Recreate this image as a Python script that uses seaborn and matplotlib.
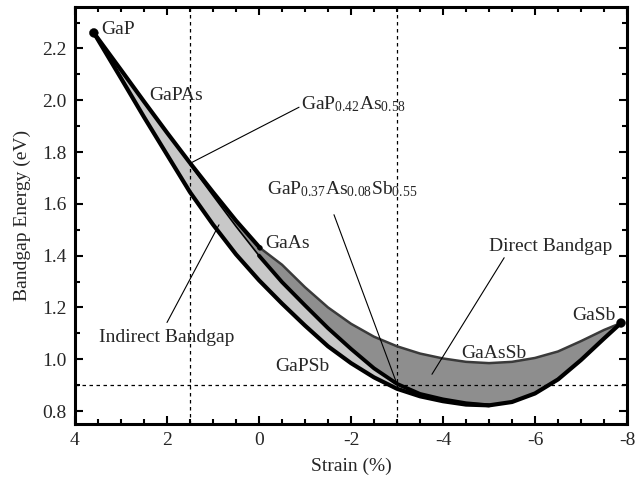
import numpy as np
import pandas as pd
import matplotlib
matplotlib.use("Agg")
import matplotlib.pyplot as plt
from matplotlib.ticker import MultipleLocator, FormatStrFormatter
import seaborn as sns

# ---------------- data ----------------
binary_names = ["GaP", "GaAs", "GaSb"]
binary_strain = [3.59, -0.02, -7.87]
binary_gap = [2.26, 1.43, 1.14]

# GaPAs edge (GaP -> GaAs)
gapas_x = [3.59, 3.0, 2.5, 2.0, 1.5, 1.0, 0.5, -0.02]
gapas_y = [2.26, 2.117, 1.995, 1.875, 1.758, 1.645, 1.535, 1.43]

# GaAsSb edge (GaAs -> GaSb)
gaassb_x = [-0.02, -0.5, -1.0, -1.5, -2.0, -2.5, -3.0, -3.5, -4.0, -4.5, -5.0,
            -5.5, -6.0, -6.5, -7.0, -7.5, -7.87]
gaassb_y = [1.43, 1.365, 1.278, 1.2, 1.137, 1.087, 1.05, 1.022, 1.003, 0.99,
            0.985, 0.99, 1.005, 1.03, 1.07, 1.113, 1.14]

# GaPSb edge (GaP -> GaSb)
gapsb_x = [3.59, 3.0, 2.5, 2.0, 1.5, 1.0, 0.5, 0.0, -0.5, -1.0, -1.5, -2.0,
           -2.5, -3.0, -3.5, -4.0, -4.5, -5.0, -5.5, -6.0, -6.5, -7.0, -7.5, -7.87]
gapsb_y = [2.26, 2.085, 1.935, 1.79, 1.645, 1.52, 1.405, 1.305, 1.215, 1.13,
           1.05, 0.985, 0.93, 0.886, 0.857, 0.838, 0.825, 0.822, 0.835, 0.868,
           0.922, 0.997, 1.08, 1.14]

# direct / indirect boundary
boundary_x = [1.5, 1.0, 0.5, 0.0, -0.5, -1.0, -1.5, -2.0, -2.5, -3.0, -3.5,
              -4.0, -4.5, -5.0]
boundary_y = [1.752, 1.632, 1.513, 1.40, 1.298, 1.208, 1.12, 1.04, 0.965,
              0.905, 0.866, 0.845, 0.83, 0.822]

x_ticks = [4, 2, 0, -2, -4, -6, -8]
y_ticks = [0.8, 1.0, 1.2, 1.4, 1.6, 1.8, 2.0, 2.2]
ref_strain = [1.5, -3.0]
ref_gap = 0.9

# ---------------- style ----------------
sns.set_style("ticks")
plt.rcParams.update({
    "font.family": ["Liberation Serif", "DejaVu Serif"],
    "mathtext.fontset": "custom",
    "mathtext.rm": "Liberation Serif",
    "mathtext.it": "Liberation Serif:italic",
    "mathtext.bf": "Liberation Serif:bold",
    "axes.unicode_minus": False,
    "font.size": 14,
})

LIGHT = "#c8c8c8"
DARK = "#8e8e8e"

fig = plt.figure(figsize=(6.36, 4.78), dpi=100)
ax = fig.add_axes([75 / 636, 1 - 424 / 478, (627 - 75) / 636, (424 - 7) / 478])

# whole quaternary region (indirect, light)
poly_x = list(gapas_x) + list(gaassb_x[1:]) + list(gapsb_x[::-1][1:])
poly_y = list(gapas_y) + list(gaassb_y[1:]) + list(gapsb_y[::-1][1:])
ax.fill(poly_x, poly_y, color=LIGHT, lw=0, zorder=1)

# direct region (dark)
gx = np.array(gapsb_x); gy = np.array(gapsb_y)
tail = gx < boundary_x[-1]
pa_x = np.array(gapas_x); pa_y = np.array(gapas_y)
mid = (pa_x > 0) & (pa_x < boundary_x[0])
dark_x = (list(boundary_x) + list(gx[tail]) + list(gaassb_x[::-1][1:])
          + list(pa_x[mid][::-1]))
dark_y = (list(boundary_y) + list(gy[tail]) + list(gaassb_y[::-1][1:])
          + list(pa_y[mid][::-1]))
ax.fill(dark_x, dark_y, color=DARK, lw=0, zorder=2)

# reference dashed lines
dash = (0, (2.8, 2.8))
for xs in ref_strain:
    ax.axvline(xs, color="black", lw=0.9, ls=dash, zorder=2.5)
ax.axhline(ref_gap, color="black", lw=0.9, ls=dash, zorder=2.5)

# edges
sns.lineplot(x=gaassb_x, y=gaassb_y, sort=False, estimator=None, color="#3a3a3a",
             lw=1.8, ax=ax, zorder=3)
sns.lineplot(x=boundary_x, y=boundary_y, sort=False, estimator=None, color="black",
             lw=1.2, ax=ax, zorder=4)
bx = np.array(boundary_x); by = np.array(boundary_y)
sel = bx <= 0.0
sns.lineplot(x=bx[sel], y=by[sel], sort=False, estimator=None, color="black",
             lw=2.8, ax=ax, zorder=4)
sns.lineplot(x=gapsb_x, y=gapsb_y, sort=False, estimator=None, color="black",
             lw=3.0, ax=ax, zorder=5)
sns.lineplot(x=gapas_x, y=gapas_y, sort=False, estimator=None, color="black",
             lw=3.0, ax=ax, zorder=5)

# binary end points
sns.scatterplot(x=binary_strain, y=binary_gap, s=[40, 12, 40], color="black",
                edgecolor="black", ax=ax, zorder=6, legend=False)

# labels
fs = 14
ax.text(3.435, 2.257, "GaP", fontsize=fs, va="baseline", ha="left")
ax.text(2.39, 2.0, "GaPAs", fontsize=fs, va="baseline", ha="left")
ax.text(-0.92, 1.965, r"GaP$_{0.42}$As$_{0.58}$", fontsize=fs, va="baseline", ha="left")
ax.text(-0.18, 1.635, r"GaP$_{0.37}$As$_{0.08}$Sb$_{0.55}$", fontsize=fs,
        va="baseline", ha="left")
ax.text(-0.145, 1.43, "GaAs", fontsize=fs, va="baseline", ha="left")
ax.text(3.48, 1.067, "Indirect Bandgap", fontsize=fs, va="baseline", ha="left")
ax.text(-0.363, 0.955, "GaPSb", fontsize=fs, va="baseline", ha="left")
ax.text(-5.0, 1.417, "Direct Bandgap", fontsize=fs, va="baseline", ha="left")
ax.text(-4.4, 1.003, "GaAsSb", fontsize=fs, va="baseline", ha="left")
ax.text(-6.81, 1.151, "GaSb", fontsize=fs, va="baseline", ha="left")

# leader lines
lead = dict(color="black", lw=0.8, zorder=7)
ax.plot([-0.87, 1.48], [1.973, 1.758], **lead)
ax.plot([-1.63, -3.0], [1.558, 0.904], **lead)
ax.plot([2.0, 0.87], [1.142, 1.519], **lead)
ax.plot([-5.33, -3.76], [1.392, 0.942], **lead)

# axes
ax.set_xlim(4.0, -8.0)
ax.set_ylim(0.75, 2.36)
ax.set_xticks(x_ticks)
ax.set_yticks(y_ticks)
ax.xaxis.set_minor_locator(MultipleLocator(0.5))
ax.yaxis.set_minor_locator(MultipleLocator(0.1))
ax.yaxis.set_major_formatter(FormatStrFormatter("%.1f"))
ax.xaxis.set_major_formatter(FormatStrFormatter("%d"))
ax.tick_params(which="both", direction="in", top=True, right=True,
               width=1.5, labelsize=14, color="black")
ax.tick_params(which="major", length=6, pad=6)
ax.tick_params(which="minor", length=3.5)
for s in ax.spines.values():
    s.set_linewidth(2.2)
    s.set_color("black")
ax.set_xlabel("Strain (%)", fontsize=14, labelpad=6)
ax.set_ylabel("Bandgap Energy (eV)", fontsize=14, labelpad=8)

fig.savefig("out.png", dpi=100)
